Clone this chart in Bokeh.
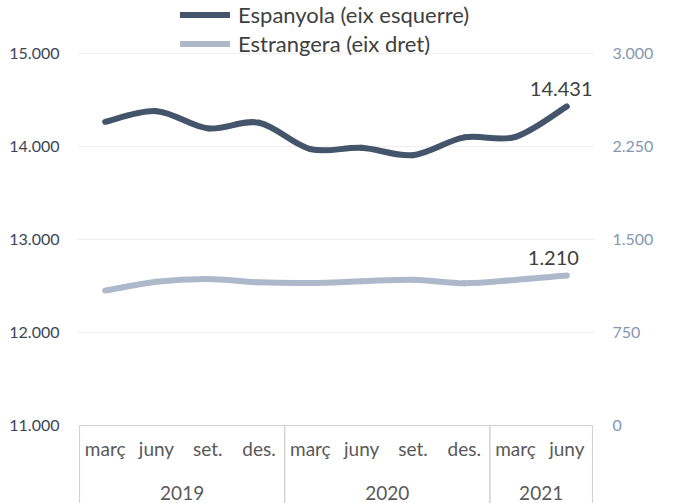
from bokeh.plotting import figure
from bokeh.models import (FactorRange, Range1d, LinearAxis, FixedTicker, Legend,
                          LegendItem, ColumnDataSource, Grid)
from bokeh.core.properties import value
from bokeh.embed import file_html
from bokeh.resources import INLINE

# ---------------- data ----------------
years = ["2019", "2020", "2021"]
months_by_year = [["març", "juny", "set.", "des."],
                  ["març", "juny", "set.", "des."],
                  ["març", "juny"]]
espanyola = [14265, 14380, 14195, 14255, 13972, 13986, 13907, 14098, 14104, 14431]
estrangera = [1088, 1160, 1182, 1155, 1150, 1163, 1176, 1147, 1174, 1210]
left_ticks = [11000, 12000, 13000, 14000, 15000]
left_tick_labels = ["11.000", "12.000", "13.000", "14.000", "15.000"]
right_ticks = [0, 750, 1500, 2250, 3000]
right_tick_labels = ["0", "750", "1.500", "2.250", "3.000"]
series_names = ["Espanyola (eix esquerre)", "Estrangera (eix dret)"]
last_labels = ["14.431", "1.210"]

factors = [(y, m) for y, ms in zip(years, months_by_year) for m in ms]

# ---------------- layout constants ----------------
FONT = "Lato"
W, H = 675, 503
TOP = 53            # top of the value area (15.000 gridline), px
PLOT_H = 372        # height of the value area (15.000 .. 11.000)
BELOW = H - TOP - PLOT_H   # category box area below the value area
DARK = "#44546a"
LIGHT = "#adb9ca"


def extended_range(ticks):
    lo, hi = ticks[0], ticks[-1]
    k = (hi - lo) / PLOT_H
    return Range1d(lo - BELOW * k, hi + TOP * k)


def smooth_source(xf, ys):
    """Bezier segments (Catmull-Rom style smoothing) through the data points."""
    n = len(ys)
    d = dict(x0=[], y0=[], x1=[], y1=[], cx0=[], cy0=[], cx1=[], cy1=[])
    for i in range(n - 1):
        yp = ys[i - 1] if i > 0 else ys[i]
        yn = ys[i + 2] if i + 2 < n else ys[i + 1]
        dx0 = (2.0 if i > 0 else 1.0) / 6.0
        dx1 = (2.0 if i + 2 < n else 1.0) / 6.0
        d["x0"].append(xf[i])
        d["y0"].append(ys[i])
        d["x1"].append(xf[i + 1])
        d["y1"].append(ys[i + 1])
        d["cx0"].append(tuple(xf[i]) + (dx0,))
        d["cy0"].append(ys[i] + (ys[i + 1] - yp) / 6.0)
        d["cx1"].append(tuple(xf[i + 1]) + (-dx1,))
        d["cy1"].append(ys[i + 1] - (yn - ys[i]) / 6.0)
    return ColumnDataSource(d)


p = figure(width=W, height=H,
           x_range=FactorRange(*factors, factor_padding=0, group_padding=0,
                               subgroup_padding=0, range_padding=0.04,
                               range_padding_units="absolute"),
           y_range=extended_range(left_ticks),
           output_backend="svg", toolbar_location=None,
           x_axis_location=None, y_axis_location=None,
           min_border_left=77, min_border_right=81,
           min_border_top=0, min_border_bottom=0)
p.extra_y_ranges = {"right": extended_range(right_ticks),
                    "box": Range1d(0, H)}
p.outline_line_color = None
p.background_fill_color = "white"

# remove default grids, add our own horizontal grid
p.center = [r for r in p.center if not isinstance(r, Grid)]
p.add_layout(Grid(dimension=1, ticker=FixedTicker(ticks=left_ticks),
                  grid_line_color="#eeeeee", grid_line_width=1))

left_axis = LinearAxis(ticker=FixedTicker(ticks=left_ticks),
                       major_label_overrides=dict(zip(left_ticks, left_tick_labels)),
                       axis_line_color=None, major_tick_line_color=None,
                       minor_tick_line_color=None, major_tick_out=0, major_tick_in=0,
                       major_label_standoff=18,
                       major_label_text_font=FONT, major_label_text_font_size="16px",
                       major_label_text_color="#3a4658")
p.add_layout(left_axis, "left")

right_axis = LinearAxis(y_range_name="right", ticker=FixedTicker(ticks=right_ticks),
                        major_label_overrides=dict(zip(right_ticks, right_tick_labels)),
                        axis_line_color=None, major_tick_line_color=None,
                        minor_tick_line_color=None, major_tick_out=0, major_tick_in=0,
                        major_label_standoff=18,
                        major_label_text_font=FONT, major_label_text_font_size="16px",
                        major_label_text_color="#8497b0")
p.add_layout(right_axis, "right")

# ---------------- category box (below the value area) ----------------
p.rect(x=years, y=[(BELOW - 10) / 2] * len(years),
       width=[len(ms) for ms in months_by_year],
       height=[BELOW + 10] * len(years), fill_color=None,
       line_color="#d0d0d0", line_width=1, y_range_name="box")
p.text(x=factors, y=[BELOW - 23] * len(factors), text=[f[1] for f in factors],
       text_align="center", text_baseline="middle", y_range_name="box",
       text_font=value(FONT), text_font_size="19px", text_color="#595959")
p.text(x=years, y=[11] * len(years), text=years,
       text_align="center", text_baseline="middle", y_range_name="box",
       text_font=value(FONT), text_font_size="19px", text_color="#595959")

# ---------------- series ----------------
r1 = p.bezier(x0="x0", y0="y0", x1="x1", y1="y1", cx0="cx0", cy0="cy0",
              cx1="cx1", cy1="cy1", source=smooth_source(factors, espanyola),
              line_color=DARK, line_width=6, line_cap="round")
r2 = p.bezier(x0="x0", y0="y0", x1="x1", y1="y1", cx0="cx0", cy0="cy0",
              cx1="cx1", cy1="cy1", source=smooth_source(factors, estrangera),
              line_color=LIGHT, line_width=6, line_cap="round", y_range_name="right")

p.text(x=[factors[-1]], y=[espanyola[-1]], text=[last_labels[0]],
       text_align="left", text_baseline="alphabetic", x_offset=-37, y_offset=-17,
       text_font=value(FONT), text_font_size="20px", text_color="#404040")
p.text(x=[factors[-1]], y=[estrangera[-1]], text=[last_labels[1]],
       text_align="left", text_baseline="alphabetic", x_offset=-39, y_offset=-17,
       text_font=value(FONT), text_font_size="20px", text_color="#404040",
       y_range_name="right")

legend = Legend(items=[LegendItem(label=series_names[0], renderers=[r1]),
                       LegendItem(label=series_names[1], renderers=[r2])],
                location=(103, H - 57), orientation="vertical",
                padding=0, margin=0, spacing=2,
                glyph_width=50, glyph_height=27, label_height=27, label_standoff=8,
                label_text_font=FONT, label_text_font_size="22px",
                label_text_color="#404040", border_line_color=None,
                background_fill_alpha=0)
p.add_layout(legend)

open("out.html", "w").write(file_html(p, INLINE))
